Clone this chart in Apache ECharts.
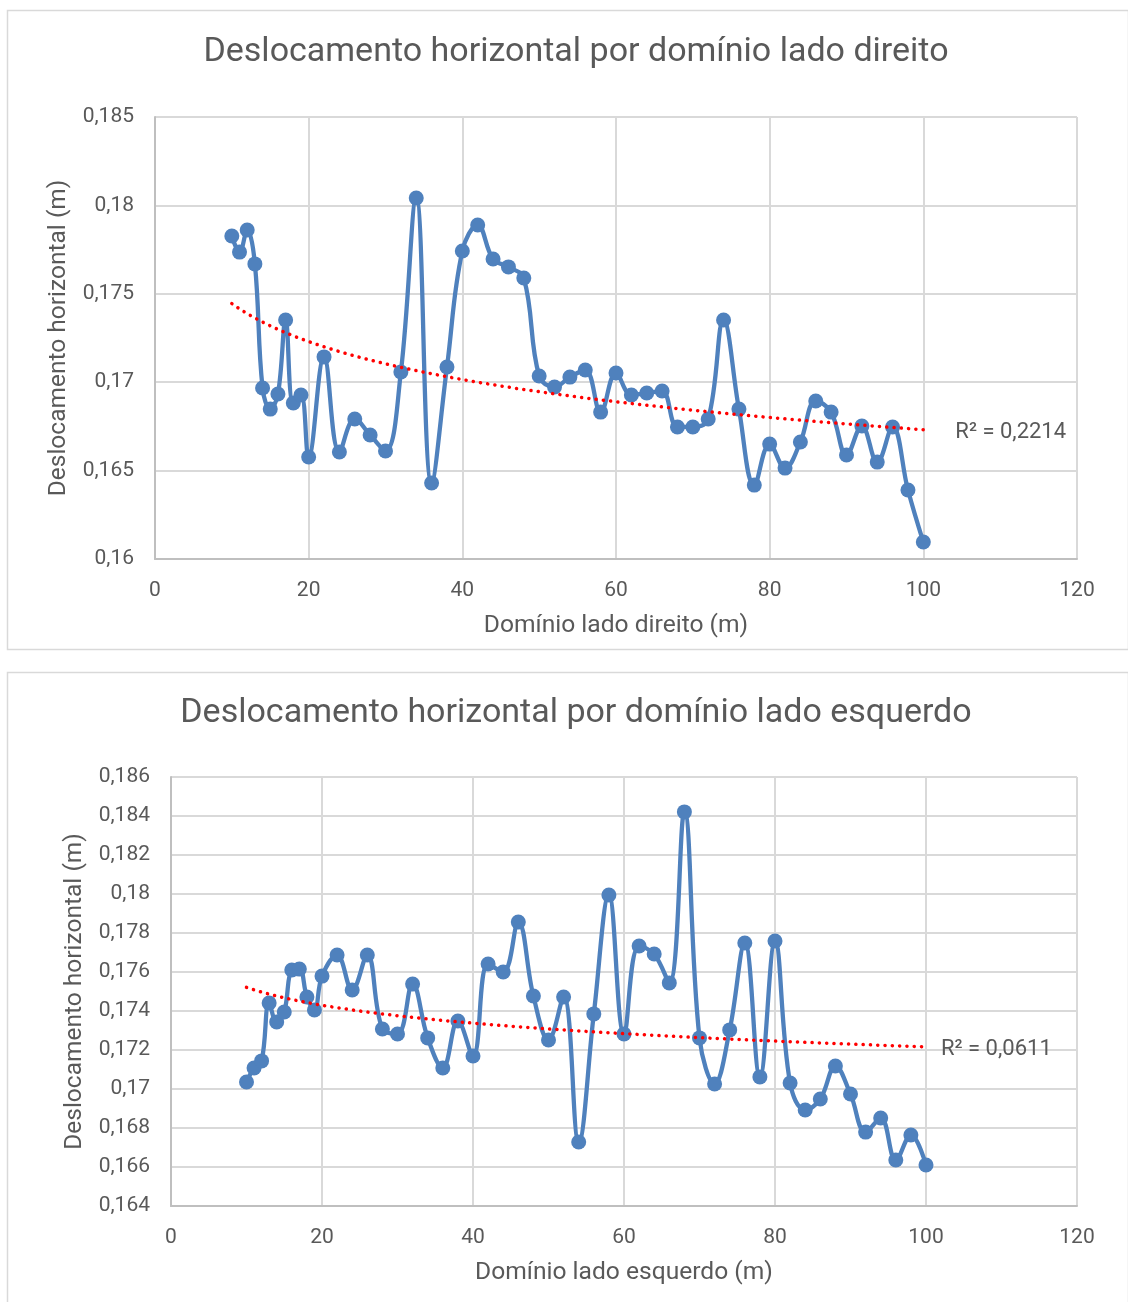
<!DOCTYPE html>
<html>
<head>
<meta charset="utf-8">
<script src="https://cdn.jsdelivr.net/npm/echarts@6/dist/echarts.min.js"></script>
<style>
html,body{margin:0;padding:0;background:#fff;}
#chart{width:1128px;height:1302px;}
</style>
</head>
<body>
<div id="chart"></div>
<script>
// ---- Data ----
const titleRight = 'Deslocamento horizontal por domínio lado direito';
const titleLeft = 'Deslocamento horizontal por domínio lado esquerdo';
const yAxisName = 'Deslocamento horizontal (m)';
const xNameRight = 'Domínio lado direito (m)';
const xNameLeft = 'Domínio lado esquerdo (m)';
const r2Right = 'R² = 0,2214';
const r2Left = 'R² = 0,0611';

const xRight = [10,11,12,13,14,15,16,17,18,19,20,22,24,26,28,30,32,34,36,38,40,42,44,46,48,50,52,54,56,58,60,62,64,66,68,70,72,74,76,78,80,82,84,86,88,90,92,94,96,98,100];
const yRight = [0.17827,0.17736,0.17861,0.17669,0.16967,0.16848,0.16933,0.17352,0.16882,0.16928,0.16577,
  0.17143,0.16605,0.16792,0.16701,0.16611,0.17058,0.18042,0.16430,0.17086,0.17742,
  0.17889,0.17697,0.17652,0.17589,0.17035,0.16973,0.17029,0.17069,0.16831,0.17052,
  0.16928,0.16939,0.16950,0.16747,0.16747,0.16792,0.17352,0.16848,0.16418,0.16650,
  0.16514,0.16662,0.16894,0.16831,0.16588,0.16752,0.16548,0.16747,0.16390,0.16096];

const xLeft = [10,11,12,13,14,15,16,17,18,19,20,22,24,26,28,30,32,34,36,38,40,42,44,46,48,50,52,54,56,58,60,62,64,66,68,70,72,74,76,78,80,82,84,86,88,90,92,94,96,98,100];
const yLeft = [0.17036,0.17108,0.17144,0.17441,0.17344,0.17395,0.17610,0.17615,0.17472,0.17405,0.17579,
  0.17687,0.17508,0.17687,0.17308,0.17282,0.17538,0.17262,0.17108,0.17349,0.17169,
  0.17641,0.17600,0.17856,0.17477,0.17251,0.17472,0.16728,0.17385,0.17995,0.17282,
  0.17733,0.17692,0.17544,0.18421,0.17262,0.17026,0.17303,0.17749,0.17062,0.17759,
  0.17031,0.16892,0.16949,0.17118,0.16974,0.16779,0.16851,0.16636,0.16764,0.16610];

const xTicks = {min: 0, max: 120, interval: 20};
const yTicksRight = {min: 0.16, max: 0.185, interval: 0.005};
const yTicksLeft = {min: 0.164, max: 0.186, interval: 0.002};

// ---- Logarithmic trendline (least squares on ln x) ----
function logTrend(xs, ys) {
  const n = xs.length;
  let sx = 0, sy = 0, sxx = 0, sxy = 0;
  for (let i = 0; i < n; i++) {
    const lx = Math.log(xs[i]);
    sx += lx; sy += ys[i]; sxx += lx * lx; sxy += lx * ys[i];
  }
  const b = (n * sxy - sx * sy) / (n * sxx - sx * sx);
  const a = (sy - b * sx) / n;
  const x0 = Math.min(...xs), x1 = Math.max(...xs);
  const pts = [];
  for (let x = x0; x <= x1 + 1e-9; x += 0.5) pts.push([x, a + b * Math.log(x)]);
  return pts;
}

const FONT = 'Roboto';
const GREY = '#595959';
const BLUE = '#4f81bd';

function fmt(v) { return String(Math.round(v * 1000) / 1000).replace('.', ','); }

function xAxis(gi, name) {
  return {
    type: 'value', gridIndex: gi, min: xTicks.min, max: xTicks.max, interval: xTicks.interval,
    name: name, nameLocation: 'middle', nameGap: 54,
    nameTextStyle: {color: GREY, fontSize: 24.6, fontFamily: FONT},
    axisLine: {show: true, lineStyle: {color: '#bfbfbf', width: 2}},
    axisTick: {show: false},
    axisLabel: {color: GREY, fontSize: 21, fontFamily: FONT, margin: 21},
    splitLine: {show: true, lineStyle: {color: '#d9d9d9', width: 2}}
  };
}
function yAxis(gi, t, gap) {
  return {
    type: 'value', gridIndex: gi, min: t.min, max: t.max, interval: t.interval,
    name: yAxisName, nameLocation: 'middle', nameGap: gap,
    nameTextStyle: {color: GREY, fontSize: 24.5, fontFamily: FONT},
    axisLine: {show: true, lineStyle: {color: '#bfbfbf', width: 2}},
    axisTick: {show: false},
    axisLabel: {color: GREY, fontSize: 21, fontFamily: FONT, margin: 21, formatter: fmt},
    splitLine: {show: true, lineStyle: {color: '#d9d9d9', width: 2}}
  };
}

function dataSeries(gi, xs, ys) {
  return {
    type: 'line', xAxisIndex: gi, yAxisIndex: gi,
    data: xs.map((x, i) => [x, ys[i]]),
    smooth: 0.4, symbol: 'circle', symbolSize: 15,
    lineStyle: {color: BLUE, width: 4.3},
    itemStyle: {color: BLUE},
    z: 3, animation: false
  };
}
function trendSeries(gi, xs, ys, label, dist) {
  return {
    type: 'line', xAxisIndex: gi, yAxisIndex: gi,
    data: logTrend(xs, ys), showSymbol: false, symbol: 'none',
    lineStyle: {color: '#ff0000', width: 3.5, type: [0.1, 7.2], cap: 'round'},
    endLabel: {show: true, formatter: label, color: GREY, fontSize: 22, fontFamily: FONT, distance: dist, offset: [0, 3]},
    z: 4, animation: false
  };
}

const chart = echarts.init(document.getElementById('chart'), null, {renderer: 'canvas'});
chart.setOption({
  animation: false,
  backgroundColor: '#ffffff',
  textStyle: {fontFamily: FONT},
  title: [
    {text: titleRight, left: 576, top: 35, textAlign: 'center', padding: 0,
     textStyle: {color: GREY, fontSize: 34, fontWeight: 'normal', fontFamily: FONT}},
    {text: titleLeft, left: 576, top: 696, textAlign: 'center', padding: 0,
     textStyle: {color: GREY, fontSize: 34, fontWeight: 'normal', fontFamily: FONT}}
  ],
  graphic: [
    {type: 'rect', shape: {x: 7.5, y: 10.5, width: 1121, height: 639}, style: {fill: 'none', stroke: '#d9d9d9', lineWidth: 1.5}, silent: true, z: -10},
    {type: 'rect', shape: {x: 7.5, y: 672.5, width: 1121, height: 660}, style: {fill: 'none', stroke: '#d9d9d9', lineWidth: 1.5}, silent: true, z: -10}
  ],
  grid: [
    {left: 155, right: 51, top: 117, height: 442},
    {left: 171, right: 51, top: 777, height: 429}
  ],
  xAxis: [xAxis(0, xNameRight), xAxis(1, xNameLeft)],
  yAxis: [yAxis(0, yTicksRight, 80), yAxis(1, yTicksLeft, 81)],
  series: [
    dataSeries(0, xRight, yRight),
    trendSeries(0, xRight, yRight, r2Right, 32),
    dataSeries(1, xLeft, yLeft),
    trendSeries(1, xLeft, yLeft, r2Left, 15)
  ]
});
</script>
</body>
</html>
